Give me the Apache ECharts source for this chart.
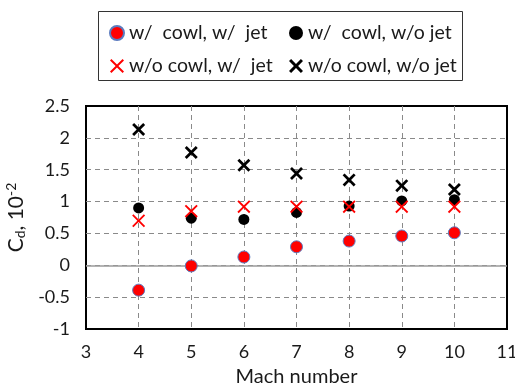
<!DOCTYPE html>
<html><head><meta charset="utf-8">
<script src="https://cdn.jsdelivr.net/npm/echarts@6/dist/echarts.min.js"></script>
<style>html,body{margin:0;padding:0;background:#fff}#c{width:515px;height:391px}</style>
</head><body><div id="c"></div>
<script>
const mach = [4, 5, 6, 7, 8, 9, 10];
const cowlJet = [-0.39, -0.01, 0.13, 0.29, 0.38, 0.46, 0.51];
const cowlNoJet = [0.90, 0.74, 0.72, 0.83, 0.93, 1.01, 1.03];
const noCowlJet = [0.70, 0.85, 0.92, 0.92, 0.92, 0.92, 0.92];
const noCowlNoJet = [2.13, 1.77, 1.57, 1.44, 1.34, 1.25, 1.19];
const names = ['w/  cowl, w/  jet', 'w/  cowl, w/o jet', 'w/o cowl, w/  jet', 'w/o cowl, w/o jet'];
const xTicks = [3, 4, 5, 6, 7, 8, 9, 10, 11];
const yTicks = [-1, -0.5, 0, 0.5, 1, 1.5, 2, 2.5];

const FONT = 'Lato';
const X = 'path://M0,1.5 L1.5,0 L5,3.5 L8.5,0 L10,1.5 L6.5,5 L10,8.5 L8.5,10 L5,6.5 L1.5,10 L0,8.5 L3.5,5 Z';
const Xthin = 'path://M0,1 L1,0 L5,4 L9,0 L10,1 L6,5 L10,9 L9,10 L5,6 L1,10 L0,9 L4,5 Z';
const pts = v => mach.map((m, i) => [m, v[i]]);

const chart = echarts.init(document.getElementById('c'));
const legText = {fontFamily: FONT, fontSize: 19.5, color: '#1a1a1a'};
chart.setOption({
  animation: false,
  textStyle: {fontFamily: FONT},
  grid: {left: 86, right: 8, top: 106, bottom: 62, show: true, borderColor: '#000', borderWidth: 2,
         backgroundColor: 'transparent', containLabel: false, outerBoundsMode: 'none'},
  legend: [
    {orient: 'vertical', left: 104, top: 18, itemGap: 13, itemWidth: 14, itemHeight: 14, textStyle: legText,
     data: [{name: names[0], icon: 'circle'}, {name: names[2], icon: Xthin}]},
    {orient: 'vertical', left: 284, top: 18, itemGap: 13, itemWidth: 14, itemHeight: 14, textStyle: legText,
     data: [{name: names[1], icon: 'circle'}, {name: names[3], icon: X}]}
  ],
  graphic: [{type: 'rect', shape: {x: 98.5, y: 11.5, width: 364, height: 69}, style: {fill: 'none', stroke: '#333', lineWidth: 1}, z: 10}],
  xAxis: {
    type: 'value', min: 3, max: 11, interval: 1,
    name: 'Mach number', nameLocation: 'middle', nameGap: 38,
    nameTextStyle: {fontFamily: FONT, fontSize: 20, color: '#1a1a1a'},
    axisLine: {show: false}, axisTick: {show: false},
    axisLabel: {fontFamily: FONT, fontSize: 18, color: '#1a1a1a', margin: 14, formatter: v => xTicks.includes(v) ? String(v) : ''},
    splitLine: {show: true, showMinLine: false, showMaxLine: false, lineStyle: {color: '#8a8a8a', type: [5, 4], width: 1}}
  },
  yAxis: {
    type: 'value', min: -1, max: 2.5, interval: 0.5,
    name: '{a|C}{s|d}{a|, 10}{p|-2}', nameLocation: 'middle', nameGap: 52, nameRotate: 90,
    nameTextStyle: {rich: {
      a: {fontFamily: FONT, fontSize: 21, color: '#1a1a1a'},
      s: {fontFamily: FONT, fontSize: 14, color: '#1a1a1a', verticalAlign: 'bottom', padding: [9, 0, 0, 0]},
      p: {fontFamily: FONT, fontSize: 14, color: '#1a1a1a', verticalAlign: 'top', padding: [0, 0, 9, 0]}
    }},
    axisLine: {show: false}, axisTick: {show: false},
    axisLabel: {fontFamily: FONT, fontSize: 18, color: '#1a1a1a', margin: 16, formatter: v => yTicks.includes(v) ? String(v) : ''},
    splitLine: {show: true, showMinLine: false, showMaxLine: false, lineStyle: {color: '#8a8a8a', type: [5, 4], width: 1}}
  },
  series: [
    {name: names[0], type: 'scatter', data: pts(cowlJet), symbol: 'circle', symbolSize: 12,
     itemStyle: {color: '#ff0000', borderColor: '#5b7bbf', borderWidth: 1, opacity: 1}, z: 3,
     markLine: {silent: true, symbol: 'none', label: {show: false}, lineStyle: {color: '#9a9a9a', type: 'solid', width: 1.5},
       data: [{yAxis: 0}], z: 1}},
    {name: names[1], type: 'scatter', data: pts(cowlNoJet), symbol: 'circle', symbolSize: 11,
     itemStyle: {color: '#000', opacity: 1}, z: 4},
    {name: names[2], type: 'scatter', data: pts(noCowlJet), symbol: Xthin, symbolSize: 13,
     itemStyle: {color: '#ff0000', opacity: 1}, z: 5},
    {name: names[3], type: 'scatter', data: pts(noCowlNoJet), symbol: X, symbolSize: 13,
     itemStyle: {color: '#000', opacity: 1}, z: 6}
  ]
});
</script></body></html>
